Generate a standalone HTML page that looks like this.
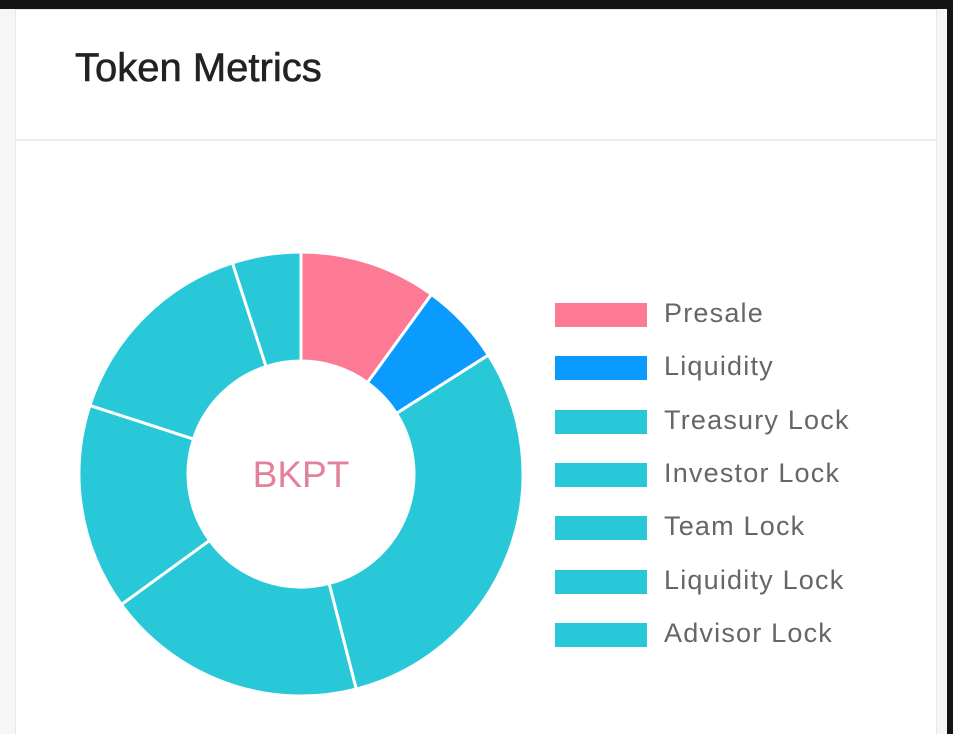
<!DOCTYPE html>
<html style="overflow:hidden;width:953px;height:734px"><head><meta charset="utf-8"><style>
body{margin:0;width:953px;height:734px;overflow:hidden;background:#f6f6f6;font-family:"Liberation Sans",sans-serif;position:relative}
#topbar{position:absolute;left:0;top:0;width:953px;height:9px;background:#141414;z-index:2}
#rightbar{position:absolute;right:0;top:0;width:6px;height:734px;background:#141414;z-index:2}
#card{position:absolute;left:15px;top:9px;width:920px;height:724px;background:#fff;border:1px solid #e8e8e8;border-bottom:none}
#head{position:absolute;left:0;top:0;width:920px;height:129px;border-bottom:2px solid #ececec}
#title{position:absolute;left:59px;top:36px;font-size:40px;color:#222;-webkit-text-stroke:0.6px #222;margin:0;font-weight:normal}
.leg{position:absolute;left:539px;height:24px;width:92px}
.lt{position:absolute;left:648px;font-size:27px;color:#666;letter-spacing:1.2px;line-height:30px}
</style></head><body>
<div id="topbar"></div>
<div id="rightbar"></div>
<div id="card">
<div id="head"><h2 id="title">Token Metrics</h2></div>
<svg id="chart" width="920" height="724" style="position:absolute;left:0;top:0"></svg>
<div id="legend"></div>
</div>
<script>
const categories=["Presale","Liquidity","Treasury Lock","Investor Lock","Team Lock","Liquidity Lock","Advisor Lock"];
const values=[10,6,30,19,15,15,5];
const colors=["#fd7a95","#0b9bff","#28c8d8","#28c8d8","#28c8d8","#28c8d8","#28c8d8"];
const centerLabel="BKPT";
const svg=document.getElementById('chart');const NS="http://www.w3.org/2000/svg";
const cx=285,cy=464,R=222,r=113;
const total=values.reduce((a,b)=>a+b,0);
function pt(a,rad){return [cx+rad*Math.sin(a),cy-rad*Math.cos(a)];}
let acc=0;
values.forEach((v,i)=>{
 const a0=acc/total*2*Math.PI;acc+=v;const a1=acc/total*2*Math.PI;
 const large=(a1-a0)>Math.PI?1:0;
 const [x0,y0]=pt(a0,R),[x1,y1]=pt(a1,R),[x2,y2]=pt(a1,r),[x3,y3]=pt(a0,r);
 const p=document.createElementNS(NS,'path');
 p.setAttribute('d',`M${x0} ${y0}A${R} ${R} 0 ${large} 1 ${x1} ${y1}L${x2} ${y2}A${r} ${r} 0 ${large} 0 ${x3} ${y3}Z`);
 p.setAttribute('fill',colors[i]);p.setAttribute('stroke','#fff');p.setAttribute('stroke-width','3');
 
 
 svg.appendChild(p);
});
const t=document.createElementNS(NS,'text');
t.setAttribute('x',cx);t.setAttribute('y',cy+13);t.setAttribute('text-anchor','middle');
t.setAttribute('font-size','37');t.setAttribute('fill','#e5809a');t.setAttribute('font-family','Liberation Sans, sans-serif');
t.textContent=centerLabel;


svg.appendChild(t);
const lg=document.getElementById('legend');
categories.forEach((c,i)=>{
 const y=293+i*53.3;
 const b=document.createElement('div');b.className='leg';b.style.top=y+'px';b.style.background=colors[i];
 
 
 lg.appendChild(b);
 const s=document.createElement('div');s.className='lt';s.style.top=(y-5)+'px';s.textContent=c;
 
 
 lg.appendChild(s);
});
</script>
</body></html>
